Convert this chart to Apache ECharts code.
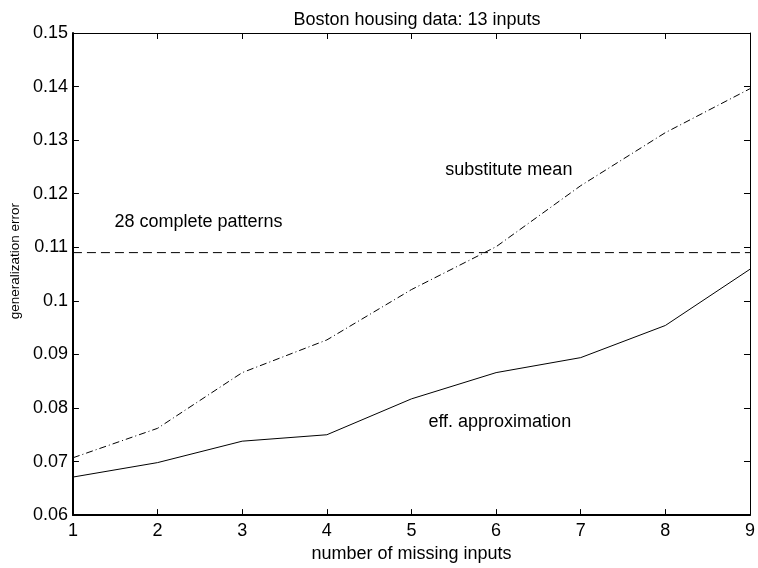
<!DOCTYPE html>
<html>
<head>
<meta charset="utf-8">
<script src="https://cdn.jsdelivr.net/npm/echarts@6/dist/echarts.min.js"></script>
<style>html,body{margin:0;padding:0;background:#fff}#c{width:758px;height:568px}</style>
</head>
<body>
<div id="c"></div>
<script>
const missingInputs = [1, 2, 3, 4, 5, 6, 7, 8, 9];
const effApprox = [0.0671, 0.0698, 0.0738, 0.0750, 0.0817, 0.0866, 0.0894, 0.0954, 0.1059];
const substituteMean = [0.0707, 0.0762, 0.0866, 0.0927, 0.1021, 0.1101, 0.1215, 0.1314, 0.1396];
const completePatternsLevel = 0.109;
const completeRange = [1, 9];
const annotations = [
  {text: '28 complete patterns', x: 1.49, y: 0.1147},
  {text: 'substitute mean', x: 5.40, y: 0.1245},
  {text: 'eff. approximation', x: 5.20, y: 0.0774}
];
const titleText = 'Boston housing data: 13 inputs';
const xLabel = 'number of missing inputs';
const yLabel = 'generalization error';

const FONT = '"Liberation Sans", Arial, Helvetica, sans-serif';
const FS = 18;
const chart = echarts.init(document.getElementById('c'), null, {renderer: 'canvas'});

const pairs = (ys) => missingInputs.map((x, i) => [x, ys[i]]);

chart.setOption({
  animation: false,
  backgroundColor: '#fff',
  title: {
    text: titleText, left: 412, top: 6, textAlign: 'center',
    textStyle: {fontFamily: FONT, fontSize: FS, fontWeight: 'normal', color: '#000'}
  },
  grid: {left: 71, right: 5, top: 33, bottom: 45},
  xAxis: [{
    type: 'value', min: 1, max: 9, interval: 1, position: 'bottom',
    name: xLabel, nameLocation: 'middle', nameGap: 26,
    nameTextStyle: {fontFamily: FONT, fontSize: FS, color: '#000'},
    axisLine: {show: true, onZero: false, lineStyle: {color: '#000', width: 2}},
    axisTick: {show: true, inside: true, length: 6, lineStyle: {color: '#000', width: 1}},
    axisLabel: {fontFamily: FONT, fontSize: FS, color: '#000', margin: 7},
    splitLine: {show: false}
  }, {
    type: 'value', min: 1, max: 9, interval: 1, position: 'top',
    axisLine: {show: true, onZero: false, lineStyle: {color: '#000', width: 1}},
    axisTick: {show: true, inside: true, length: 6, lineStyle: {color: '#000', width: 1}},
    axisLabel: {show: false}, splitLine: {show: false}
  }],
  yAxis: [{
    type: 'value', min: 0.06, max: 0.15, interval: 0.01, position: 'left',
    name: yLabel, nameLocation: 'middle', nameGap: 44,
    nameTextStyle: {fontFamily: FONT, fontSize: 13.5, color: '#000', padding: [0, 0, 0, 26]},
    axisLine: {show: true, onZero: false, lineStyle: {color: '#000', width: 2}},
    axisTick: {show: true, inside: true, length: 6, lineStyle: {color: '#000', width: 1}},
    axisLabel: {fontFamily: FONT, fontSize: FS, color: '#000', margin: 5,
      formatter: (v) => String(Math.round(v * 100) / 100)},
    splitLine: {show: false}
  }, {
    type: 'value', min: 0.06, max: 0.15, interval: 0.01, position: 'right',
    axisLine: {show: true, onZero: false, lineStyle: {color: '#000', width: 1}},
    axisTick: {show: true, inside: true, length: 6, lineStyle: {color: '#000', width: 1}},
    axisLabel: {show: false}, splitLine: {show: false}
  }],
  series: [{
    name: 'eff. approximation', type: 'line', data: pairs(effApprox),
    showSymbol: false, symbol: 'none',
    lineStyle: {color: '#000', width: 1, type: 'solid'},
    markPoint: {
      silent: true,
      data: annotations.map(a => ({
        coord: [a.x, a.y], symbol: 'circle', symbolSize: 0,
        label: {show: true, formatter: a.text, position: 'right', distance: 0,
          fontFamily: FONT, fontSize: FS, color: '#000'}
      }))
    }
  }, {
    name: 'substitute mean', type: 'line', data: pairs(substituteMean),
    showSymbol: false, symbol: 'none',
    lineStyle: {color: '#000', width: 1, type: [7, 3, 1, 3]}
  }, {
    name: '28 complete patterns', type: 'line',
    data: completeRange.map(x => [x, completePatternsLevel]),
    showSymbol: false, symbol: 'none',
    lineStyle: {color: '#000', width: 1, type: [9, 5]}
  }]
});
</script>
</body>
</html>
